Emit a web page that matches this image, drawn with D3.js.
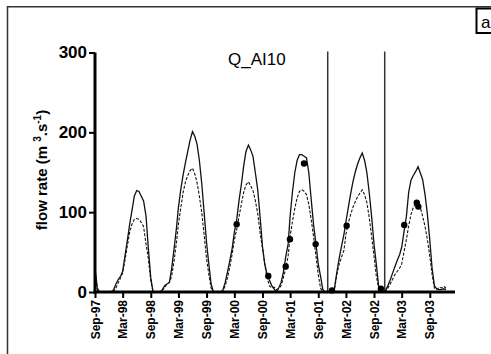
<!DOCTYPE html>
<html><head><meta charset="utf-8">
<script src="https://cdn.jsdelivr.net/npm/d3@7"></script>
<style>
html,body{margin:0;padding:0;background:#fff;}
svg{display:block;font-family:"Liberation Sans",Arial,sans-serif;}
</style></head>
<body>
<svg id="chart" width="491" height="354"></svg>
<script>
// Sampling months (values given for day 1 and day 16 of each month)
const sampleMonths = [
 "1997-09","1997-10","1997-11","1997-12",
 "1998-01","1998-02","1998-03","1998-04","1998-05","1998-06","1998-07","1998-08","1998-09","1998-10","1998-11","1998-12",
 "1999-01","1999-02","1999-03","1999-04","1999-05","1999-06","1999-07","1999-08","1999-09","1999-10","1999-11","1999-12",
 "2000-01","2000-02","2000-03","2000-04","2000-05","2000-06","2000-07","2000-08","2000-09","2000-10","2000-11","2000-12",
 "2001-01","2001-02","2001-03","2001-04","2001-05","2001-06","2001-07","2001-08","2001-09","2001-10","2001-11","2001-12",
 "2002-01","2002-02","2002-03","2002-04","2002-05","2002-06","2002-07","2002-08","2002-09","2002-10","2002-11","2002-12",
 "2003-01","2003-02","2003-03","2003-04","2003-05","2003-06","2003-07","2003-08","2003-09","2003-10","2003-11","2003-12"
];
const sampleDays = ["01","16"];

// Simulated flow, solid line (m3/s)
const solidQ = [
 30,5, 0,0, 0,0, 0,0,
 3,10, 16,20, 26,45, 65,85, 102,120, 127,126, 120,114, 95,55, 18,0, 0,0, 0,3, 8,10,
 12,30, 55,80, 106,128, 147,162, 176,190, 201,195, 185,165, 135,100, 62,35, 10,0, 0,0, 0,2,
 12,25, 40,55, 75,90, 115,135, 158,176, 184,178, 170,150, 128,95, 57,35, 22,15, 8,4, 0,5,
 12,25, 45,60, 95,125, 150,165, 172,172, 170,168, 150,118, 85,62, 35,20, 3,0, 0,0, 0,5,
 25,42, 58,72, 88,105, 123,138, 150,160, 168,174, 165,150, 124,95, 60,35, 8,0, 0,2, 8,15,
 24,32, 40,47, 56,75, 95,125, 140,146, 151,157, 149,141, 122,98, 65,30, 8,4, 3,3, 4,3
];
// Simulated flow, dashed line (m3/s)
const dashedQ = [
 28,3, 0,0, 0,0, 0,0,
 1,5, 12,18, 24,40, 58,75, 85,91, 92,91, 87,82, 60,42, 14,0, 0,0, 0,2, 6,10,
 12,20, 40,62, 85,105, 125,138, 146,152, 155,148, 137,120, 99,72, 42,22, 5,0, 0,0, 0,1,
 8,18, 32,48, 65,78, 95,110, 125,134, 138,133, 127,115, 98,75, 55,35, 18,8, 5,6, 3,4,
 8,18, 30,45, 70,88, 105,118, 126,128, 126,122, 110,92, 70,47, 22,5, 0,0, 0,0, 0,3,
 22,35, 44,52, 72,86, 97,106, 113,119, 124,128, 122,112, 93,70, 45,20, 5,0, 0,1, 5,10,
 16,22, 26,30, 35,50, 66,83, 97,106, 111,113, 106,95, 82,66, 45,22, 5,3, 6,5, 7,5
];
// Observed flow (dots)
const obsDates = ["2000-03-16","2000-10-09","2001-01-31","2001-02-28","2001-05-31","2001-08-15",
                  "2001-11-30","2002-03-06","2002-10-16","2003-03-18","2003-06-08","2003-06-18"];
const obsQ = [85,20,32,66,161,60,2,83,4,84,112,107];

// Vertical marker lines
const markerDates = ["2001-11-02","2002-11-10"];

// Axis ticks
const xTickDates = ["1997-09-01","1998-03-01","1998-09-01","1999-03-01","1999-09-01","2000-03-01",
                    "2000-09-01","2001-03-01","2001-09-01","2002-03-01","2002-09-01","2003-03-01","2003-09-01"];
const yTicks = [0,100,200,300];
const xDomain = ["1997-09-01","2004-02-13"];
const yDomain = [0,300];
const titleText = "Q_AI10";
const panelLabel = "a";

const parse = d3.utcParse("%Y-%m-%d");
const svg = d3.select("#chart");

// outer frame
svg.append("rect").attr("x",7.5).attr("y",6.75).attr("width",520).attr("height",420)
  .attr("fill","none").attr("stroke","#333").attr("stroke-width",1.5);

const x = d3.scaleUtc().domain(xDomain.map(parse)).range([95,455]);
const y = d3.scaleLinear().domain(yDomain).range([292,52.5]);

const dates = [];
sampleMonths.forEach(m => sampleDays.forEach(d => dates.push(parse(m+"-"+d))));
const solidPts = dates.map((d,i)=>[d,solidQ[i]]);
const dashedPts = dates.map((d,i)=>[d,dashedQ[i]]);

const line = d3.line().x(d=>x(d[0])).y(d=>y(d[1]));

// vertical marker lines
svg.selectAll("line.marker").data(markerDates).enter().append("line")
  .attr("x1",d=>x(parse(d))).attr("x2",d=>x(parse(d)))
  .attr("y1",y(300)-1).attr("y2",y(0))
  .attr("stroke","#333").attr("stroke-width",1.5);

svg.append("path").attr("d",line(dashedPts)).attr("fill","none")
  .attr("stroke","#111").attr("stroke-width",1.1).attr("stroke-dasharray","3,1.6");
svg.append("path").attr("d",line(solidPts)).attr("fill","none")
  .attr("stroke","#111").attr("stroke-width",1.3);

svg.selectAll("circle.obs").data(obsDates).enter().append("circle")
  .attr("cx",d=>x(parse(d))).attr("cy",(d,i)=>y(obsQ[i])).attr("r",3.2).attr("fill","#000");

// axes
const xAxis = d3.axisBottom(x).tickValues(xTickDates.map(parse))
  .tickFormat(d3.utcFormat("%b-%y")).tickSize(6).tickSizeOuter(0);
const gx = svg.append("g").attr("transform","translate(0,292)").call(xAxis);
gx.select(".domain").attr("stroke","#000").attr("stroke-width",3).attr("d","M93.5,0H455");
gx.selectAll(".tick line").attr("stroke","#000").attr("stroke-width",2);
gx.selectAll(".tick text").attr("transform","rotate(-90)").attr("x",-8).attr("y",0)
  .attr("dy","0.35em").attr("text-anchor","end")
  .attr("font-size",12).attr("font-weight","bold").attr("fill","#000")
  .attr("font-family","'Liberation Sans',Arial,sans-serif");

const yAxis = d3.axisLeft(y).tickValues(yTicks).tickSize(6).tickSizeOuter(0).tickPadding(2);
const gy = svg.append("g").attr("transform","translate(95,0)").call(yAxis);
gy.select(".domain").attr("stroke","#000").attr("stroke-width",3).attr("d","M0,293.5V52.5");
gy.selectAll(".tick line").attr("stroke","#000").attr("stroke-width",2);
gy.selectAll(".tick text").attr("font-size",17).attr("font-weight","bold").attr("fill","#000")
  .attr("font-family","'Liberation Sans',Arial,sans-serif");

// y-axis title
const yt = svg.append("text").attr("transform","translate(47,170) rotate(-90)")
  .attr("text-anchor","middle").attr("font-size",15).attr("font-weight","bold").attr("fill","#000");
yt.append("tspan").text("flow rate (m ");
yt.append("tspan").attr("font-size",10).attr("dy",-6).text("3");
yt.append("tspan").attr("dy",6).text(".s");
yt.append("tspan").attr("font-size",10).attr("dy",-6).text("-1");
yt.append("tspan").attr("dy",6).text(")");

// title
svg.append("text").attr("x",228).attr("y",65).attr("font-size",17).attr("fill","#000").text(titleText);

// panel label box
svg.append("rect").attr("x",476.5).attr("y",8.5).attr("width",30).attr("height",24.5)
  .attr("fill","#fff").attr("stroke","#000").attr("stroke-width",2);
svg.append("text").attr("x",481).attr("y",28).attr("font-size",17).attr("fill","#000").text(panelLabel);
</script>
</body></html>
